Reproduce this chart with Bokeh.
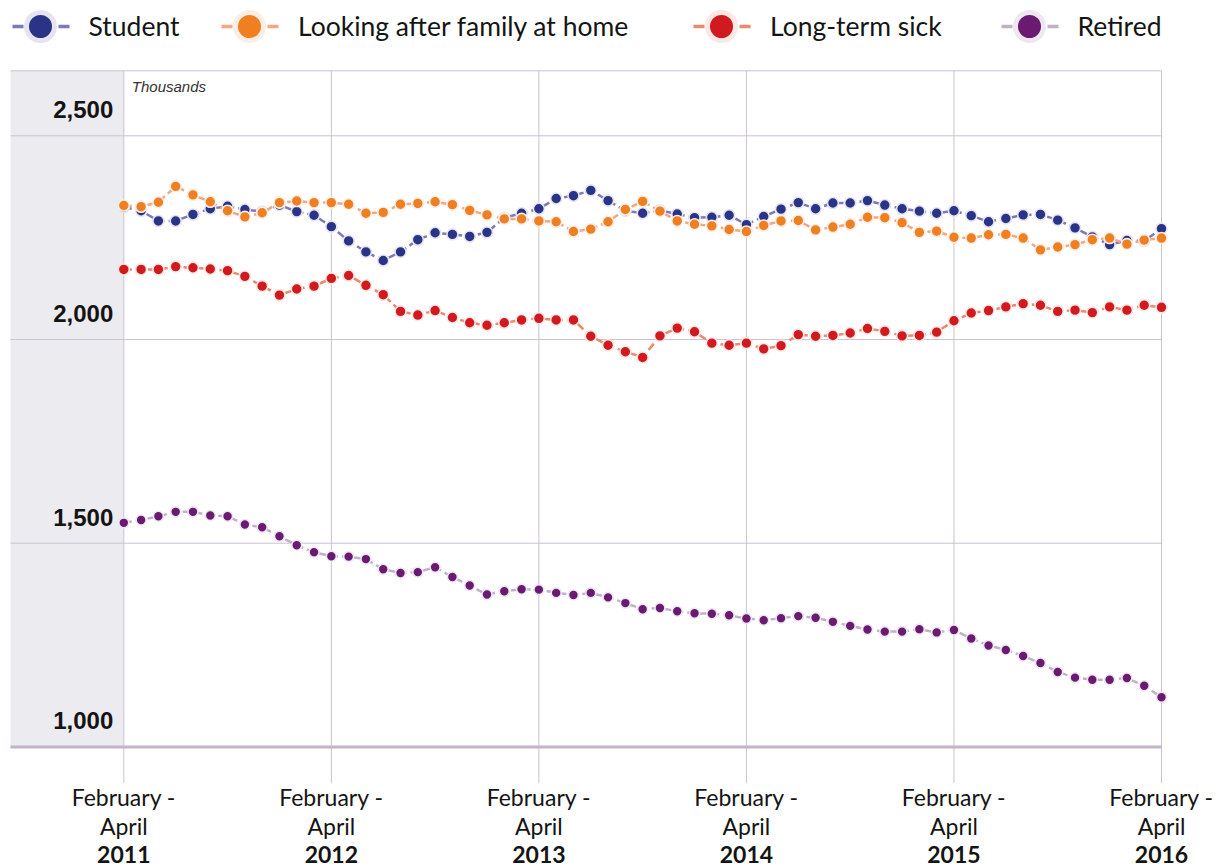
from bokeh.plotting import figure
from bokeh.models import Range1d, ColumnDataSource, Legend, LegendItem
from bokeh.embed import file_html
from bokeh.resources import INLINE
from bokeh.core.properties import value

# ---------------- data (thousands, monthly rolling quarters) ----------------
months = list(range(61))  # 0 = February-April 2011 ... 60 = February-April 2016

student = [2325, 2316, 2291, 2291, 2307, 2321, 2327, 2319, 2314, 2330,
           2314, 2305, 2277, 2242, 2215, 2194, 2215, 2245, 2262, 2258,
           2253, 2263, 2299, 2310, 2321, 2346, 2353, 2366, 2341, 2316,
           2310, 2317, 2308, 2299, 2300, 2305, 2282, 2302, 2320, 2336,
           2321, 2335, 2335, 2341, 2330, 2321, 2315, 2310, 2316, 2304,
           2289, 2297, 2306, 2307, 2293, 2274, 2252, 2233, 2243, 2242,
           2272]

family = [2329, 2326, 2337, 2376, 2355, 2338, 2316, 2301, 2311, 2336,
          2340, 2336, 2336, 2332, 2310, 2312, 2332, 2334, 2338, 2331,
          2317, 2306, 2296, 2296, 2291, 2289, 2265, 2271, 2289, 2319,
          2339, 2315, 2291, 2283, 2279, 2270, 2265, 2280, 2291, 2292,
          2269, 2276, 2283, 2300, 2299, 2287, 2263, 2266, 2251, 2249,
          2257, 2258, 2249, 2220, 2227, 2233, 2245, 2249, 2234, 2244,
          2249]

sick = [2172, 2172, 2172, 2179, 2176, 2173, 2169, 2155, 2131, 2109,
        2124, 2131, 2150, 2157, 2133, 2110, 2069, 2060, 2071, 2054,
        2041, 2035, 2041, 2048, 2052, 2048, 2048, 2008, 1986, 1970,
        1956, 2009, 2028, 2019, 1991, 1986, 1991, 1977, 1985, 2012,
        2008, 2010, 2016, 2027, 2020, 2009, 2010, 2018, 2046, 2065,
        2071, 2080, 2088, 2084, 2069, 2072, 2066, 2080, 2072, 2084,
        2079]

retired = [1550, 1557, 1566, 1577, 1577, 1568, 1566, 1546, 1539, 1517,
           1495, 1478, 1468, 1467, 1461, 1436, 1427, 1429, 1441, 1417,
           1396, 1374, 1382, 1387, 1386, 1378, 1373, 1378, 1367, 1353,
           1338, 1341, 1333, 1328, 1327, 1323, 1315, 1311, 1316, 1321,
           1317, 1307, 1297, 1288, 1283, 1283, 1289, 1281, 1287, 1266,
           1249, 1238, 1223, 1206, 1184, 1170, 1165, 1165, 1169, 1150,
           1122]

series_names = ["Student", "Looking after family at home", "Long-term sick", "Retired"]

tick_months = [0, 12, 24, 36, 48, 60]
tick_line1 = ["February -"] * 6
tick_line2 = ["April"] * 6
tick_years = ["2011", "2012", "2013", "2014", "2015", "2016"]

y_ticks = [1000, 1500, 2000, 2500]
y_labels = ["1,000", "1,500", "2,000", "2,500"]
unit_label = "Thousands"

# ---------------- layout (pixels) ----------------
W, H = 1219, 867
PX_FIRST, PX_LAST = 123.3, 1161.0        # x pixel of first / last month
PY_LOW, PY_HIGH = 746.4, 135.3           # y pixel of 1,000 / 2,500
PX_BAND, PY_TOP, PY_TICKEND = 10.0, 70.3, 782.7

ppm = (PX_LAST - PX_FIRST) / (months[-1] - months[0])
ppu = (PY_LOW - PY_HIGH) / (y_ticks[-1] - y_ticks[0])
x_start = months[0] - PX_FIRST / ppm
x_end = months[-1] + (W - PX_LAST) / ppm
y_start = y_ticks[0] - (H - PY_LOW) / ppu
y_end = y_ticks[0] + PY_LOW / ppu
band_left = months[0] - (PX_FIRST - PX_BAND) / ppm
top_val = y_ticks[0] + (PY_LOW - PY_TOP) / ppu
tick_end = y_ticks[0] - (PY_TICKEND - PY_LOW) / ppu

# ---------------- styles ----------------
dot_colors = ["#2a3486", "#f07f21", "#d11a1f", "#6a1a70"]
halo_colors = ["#e6e4f1", "#fdeee5", "#fbe7e3", "#ede8f0"]
line_colors = ["#7d79bb", "#f4a584", "#ea8a6d", "#c1b1c8"]
marker_sizes = [11, 11, 11, 10]
grid_col = "#cbc1d2"
axis_col = "#c3b4cb"
band_col = "#ecebef"
text_col = "#141414"

p = figure(width=W, height=H,
           x_range=Range1d(x_start, x_end), y_range=Range1d(y_start, y_end),
           output_backend="svg", toolbar_location=None,
           x_axis_location=None, y_axis_location=None,
           min_border=0, min_border_left=0, min_border_right=0,
           min_border_top=0, min_border_bottom=0)
p.outline_line_color = None
p.background_fill_color = "white"
p.border_fill_color = "white"
p.grid.visible = False

# grey band left of first month
p.quad(left=[band_left], right=[months[0]], bottom=[y_ticks[0]], top=[top_val],
       fill_color=band_col, line_color=None)

# horizontal grid lines + top border
n_y = len(y_ticks)
p.segment(x0=[band_left] * (n_y + 1), x1=[months[-1]] * (n_y + 1),
          y0=y_ticks + [top_val], y1=y_ticks + [top_val],
          line_color=grid_col, line_width=1)
# vertical year lines (extend below axis as ticks)
n_t = len(tick_months)
p.segment(x0=tick_months, x1=tick_months, y0=[tick_end] * n_t, y1=[top_val] * n_t,
          line_color=grid_col, line_width=1)
# bottom axis line
p.segment(x0=[band_left], x1=[months[-1]], y0=[y_ticks[0]], y1=[y_ticks[0]],
          line_color=axis_col, line_width=3)

# series
all_series = [student, family, sick, retired]
legend_renderers = []
for vals, dc, hc, lc, ms in zip(all_series, dot_colors, halo_colors, line_colors, marker_sizes):
    src = ColumnDataSource(dict(month=months, value=vals))
    p.line("month", "value", source=src, line_color=lc, line_width=2.5, line_dash="8 4")
    p.scatter("month", "value", source=src, size=ms, fill_color=dc, line_color=hc, line_width=1.6)
    # legend-only glyphs (hidden on the chart, drawn in the legend)
    lsrc = ColumnDataSource(dict(month=months[:1], value=vals[:1]))
    ll = p.line("month", "value", source=lsrc, line_color=lc, line_width=3.5,
                line_dash="0 7 11 35 11 6", visible=False)
    ld = p.scatter("month", "value", source=lsrc, size=28, fill_color=dc,
                   line_color=hc, line_width=5, visible=False)
    legend_renderers.append((ll, ld))

# y labels inside band
p.text(x=[months[0]] * n_y, y=y_ticks, text=y_labels,
       x_offset=-10.5, y_offset=-26, text_align="right", text_baseline="alphabetic",
       text_font=value("Liberation Sans"), text_font_style="bold",
       text_font_size="24px", text_color=text_col)

p.text(x=[months[0]], y=[top_val], text=[unit_label],
       x_offset=8, y_offset=7, text_align="left", text_baseline="top",
       text_font=value("Liberation Sans"), text_font_style="italic",
       text_font_size="15px", text_color="#333333")

# x tick labels (three lines)
y0 = [y_ticks[0]] * n_t
for texts, off, style in [(tick_line1, 50, "normal"), (tick_line2, 79.5, "normal"),
                          (tick_years, 108, "bold")]:
    p.text(x=tick_months, y=y0, text=texts, y_offset=off,
           text_align="center", text_baseline="alphabetic",
           text_font=value("Lato"), text_font_style=style,
           text_font_size="23px", text_color=text_col)

# legend: one legend per item, placed along the top
leg_x = [4.5, 214, 686, 993.6]
for name, (ll, ld), lx in zip(series_names, legend_renderers, leg_x):
    leg = Legend(items=[LegendItem(label=name, renderers=[ll, ld])],
                 location=(lx, H - 61), orientation="horizontal",
                 padding=0, margin=0, spacing=0,
                 glyph_width=70, glyph_height=70, label_standoff=14,
                 label_text_font="Lato", label_text_font_size="26.5px",
                 label_text_color=text_col, background_fill_alpha=0,
                 border_line_color=None)
    p.add_layout(leg, "center")

open("out.html", "w").write(file_html(p, INLINE))
